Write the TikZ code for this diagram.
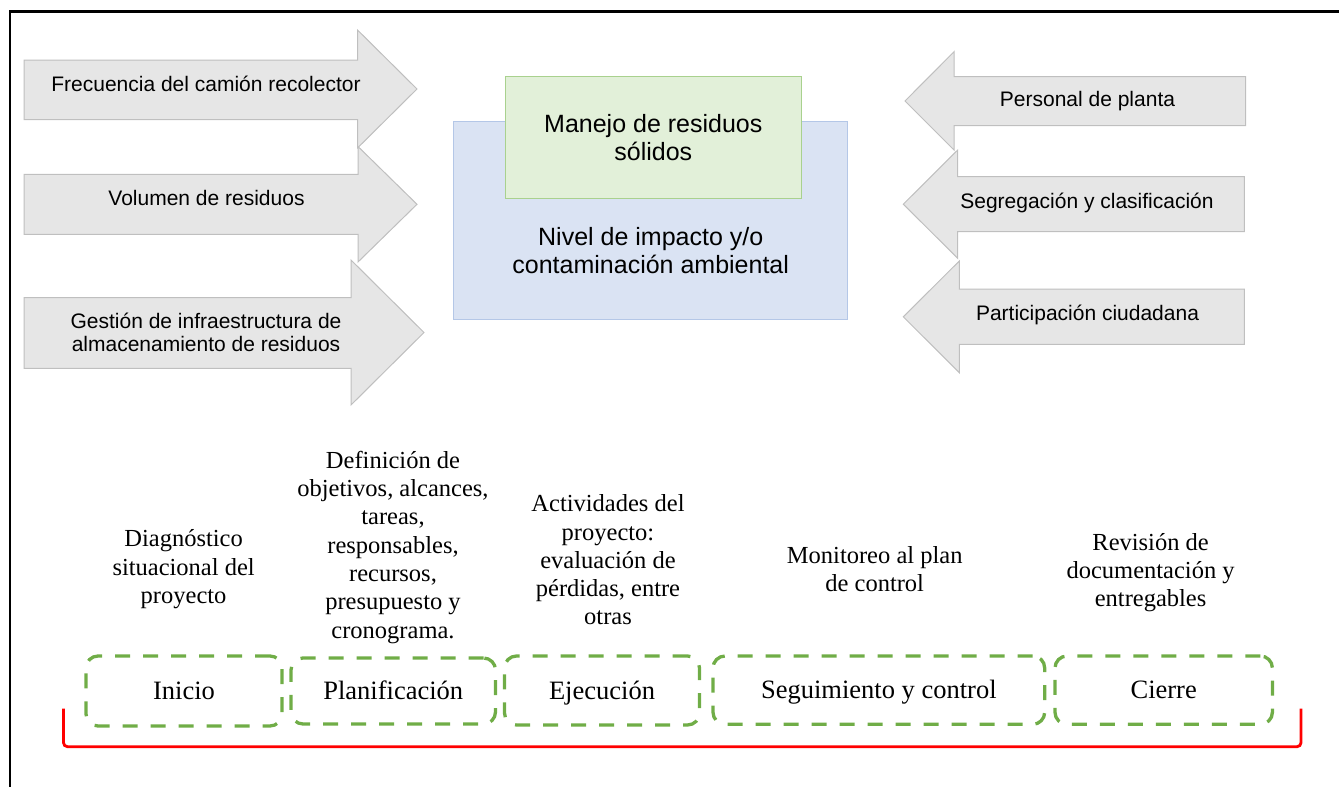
\documentclass[tikz,border=0pt]{standalone}
\usepackage{fontspec}
\setmainfont{Liberation Serif}
\newfontfamily\arialf{Liberation Sans}
\definecolor{arrfill}{HTML}{E6E6E6}
\definecolor{arrdraw}{HTML}{BFBFBF}
\definecolor{bluefill}{HTML}{DAE3F3}
\definecolor{bluedraw}{HTML}{B4C7E7}
\definecolor{greenfill}{HTML}{E2F0D9}
\definecolor{greendraw}{HTML}{A9D18E}
\definecolor{phasegreen}{HTML}{70AD47}
\definecolor{bracketred}{HTML}{FF0000}
\begin{document}
\begin{tikzpicture}[x=1pt,y=-1pt,
  arrowshape/.style={fill=arrfill, draw=arrdraw, line width=1pt, line join=miter},
  arrowtext/.style={font=\arialf\fontsize{21}{23.4}\selectfont, anchor=base, align=center, inner sep=0pt},
  boxtext/.style={font=\arialf\fontsize{25}{27.3}\selectfont, anchor=base, align=center, inner sep=0pt},
  desc/.style={font=\fontsize{24.5}{28.3}\selectfont, anchor=base, align=center, inner sep=0pt},
  phase/.style={draw=phasegreen, line width=3.3pt, dash pattern=on 15pt off 13pt, rounded corners=12pt,
    inner sep=0pt, text height=17.5pt, text depth=0pt, font=\fontsize{26.5}{30}\selectfont},
  bracketline/.style={draw=bracketred, line width=2.8pt, rounded corners=4pt}
]
\useasboundingbox (0,0) rectangle (1339,787);
% frame lines
\draw[line width=2.5pt] (10,787) -- (10,11.5) -- (1339,11.5);

% left arrows
\draw[arrowshape] (24,60) -- (357.5,60) -- (357.5,30) -- (417,89) -- (357.5,148) -- (357.5,119.5) -- (24,119.5) -- cycle;
\draw[arrowshape] (24,174.3) -- (358,174.3) -- (358,146.5) -- (417,204.3) -- (358,262) -- (358,234.3) -- (24,234.3) -- cycle;
\draw[arrowshape] (24,297.7) -- (351,297.7) -- (351,260) -- (424,332.5) -- (351,405) -- (351,368.3) -- (24,368.3) -- cycle;
\node[arrowtext] (tf) at (206,91) {Frecuencia del camión recolector};
\node[arrowtext] (tv) at (206.5,205.7) {Volumen de residuos};
% anchor base of multi-line nodes = baseline of last line
\node[arrowtext] (tg) at (206,351.7) {Gestión de infraestructura de\\almacenamiento de residuos};

% right arrows
\draw[arrowshape] (1245.7,76.7) -- (954,76.7) -- (954,51.7) -- (905,101) -- (954,150) -- (954,125.7) -- (1245.7,125.7) -- cycle;
\draw[arrowshape] (1244.3,176.7) -- (957.7,176.7) -- (957.7,150) -- (903.3,204.2) -- (957.7,258.3) -- (957.7,231.7) -- (1244.3,231.7) -- cycle;
\draw[arrowshape] (1244.3,289) -- (959.3,289) -- (959.3,261) -- (903.3,316.8) -- (959.3,372.7) -- (959.3,344.3) -- (1244.3,344.3) -- cycle;
\node[arrowtext] (tp) at (1087.5,106.7) {Personal de planta};
\node[arrowtext] (ts) at (1087,208.3) {Segregación y clasificación};
\node[arrowtext] (tc) at (1087.5,320) {Participación ciudadana};

% central boxes
\node[draw=bluedraw, fill=bluefill, line width=1pt, minimum width=394pt, minimum height=197.3pt, inner sep=0pt] (impacto) at (650.3,220.35) {};
\node[draw=greendraw, fill=greenfill, line width=1pt, minimum width=296pt, minimum height=122.3pt, inner sep=0pt] (manejo) at (653.7,137.15) {};
\node[boxtext] (tmanejo) at (653.3,160) {Manejo de residuos\\sólidos};
\node[boxtext, font=\arialf\fontsize{25}{28.3}\selectfont] (timpacto) at (650.7,273.3) {Nivel de impacto y/o\\contaminación ambiental};

% descriptions
\node[desc] (d1) at (183.6,603.3) {Diagnóstico\\situacional del\\proyecto};
\node[desc] (d2) at (393,638.1) {Definición de\\objetivos, alcances,\\tareas,\\responsables,\\recursos,\\presupuesto y\\cronograma.};
\node[desc] (d3) at (608,624.9) {Actividades del\\proyecto:\\evaluación de\\pérdidas, entre\\otras};
\node[desc] (d4) at (874.7,591.6) {Monitoreo al plan\\de control};
\node[desc] (d5) at (1150.6,606.6) {Revisión de\\documentación y\\entregables};

% phases
\node[phase, minimum width=196pt, minimum height=70pt] (inicio) at (184,691) {Inicio};
\node[phase, minimum width=204.5pt, minimum height=66pt] (planif) at (393.25,691) {Planificación};
\node[phase, minimum width=195pt, minimum height=69pt] (ejec) at (602,690.5) {Ejecución};
\node[phase, minimum width=331.7pt, minimum height=68.3pt] (seg) at (878.85,690.15) {Seguimiento y control};
\node[phase, minimum width=217.4pt, minimum height=68.3pt] (cierre) at (1163.7,690.15) {Cierre};

% bracket
\coordinate (bl) at (63.5,708.5);
\coordinate (br) at (1301,708.5);
\draw[bracketline] (bl) |- (1301,746.7) -- (br);
\end{tikzpicture}
\end{document}
